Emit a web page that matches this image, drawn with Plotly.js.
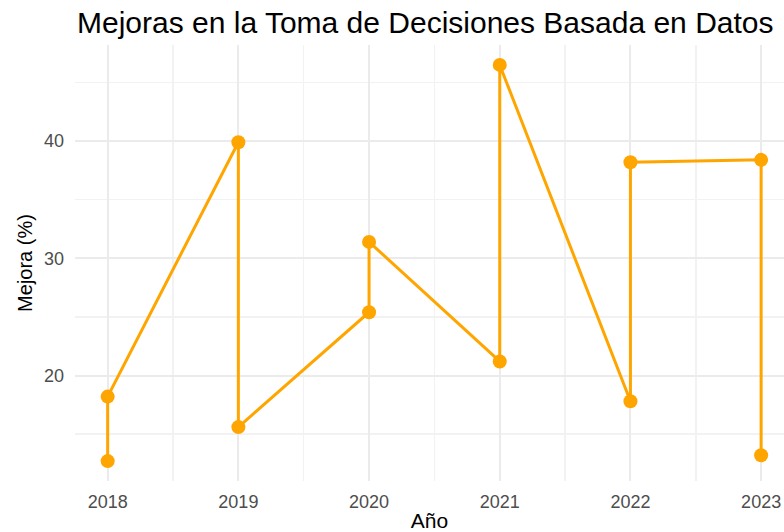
<!DOCTYPE html>
<html>
<head>
<meta charset="utf-8">
<script src="https://cdn.plot.ly/plotly-3.0.1.min.js"></script>
<style>
  html, body { margin: 0; padding: 0; background: #ffffff; }
  #chart { width: 784px; height: 532px; }
</style>
</head>
<body>
<div id="chart"></div>
<script>
// Data (points connected in data order)
const years = [2018, 2018, 2019, 2019, 2020, 2020, 2021, 2021, 2022, 2022, 2023, 2023];
const mejora = [12.7, 18.2, 39.9, 15.6, 25.4, 31.4, 21.2, 46.5, 17.8, 38.2, 38.4, 13.2];
const xTickVals = [2018, 2019, 2020, 2021, 2022, 2023];
const xTickText = ["2018", "2019", "2020", "2021", "2022", "2023"];
const yTickVals = [20, 30, 40];
const yTickText = ["20", "30", "40"];

const FONT = "Liberation Sans, Arial, sans-serif";
const ORANGE = "#FFA500";

const trace = {
  x: years,
  y: mejora,
  type: "scatter",
  mode: "lines+markers",
  line: { color: ORANGE, width: 3 },
  marker: { color: ORANGE, size: 14 },
  hoverinfo: "x+y",
  showlegend: false
};

const layout = {
  width: 784,
  height: 532,
  paper_bgcolor: "#ffffff",
  plot_bgcolor: "#ffffff",
  margin: { l: 75, r: 0, t: 45, b: 51 },
  font: { family: FONT, color: "#4D4D4D" },
  title: {
    text: "Mejoras en la Toma de Decisiones Basada en Datos",
    font: { family: FONT, size: 30, color: "#000000" },
    x: 77 / 784,
    xref: "container",
    xanchor: "left",
    y: 1 - 22 / 532,
    yref: "container",
    yanchor: "middle"
  },
  xaxis: {
    range: [2017.75, 2023.175],
    tickmode: "array",
    tickvals: xTickVals,
    ticktext: xTickText,
    showgrid: true,
    gridcolor: "#EBEBEB",
    gridwidth: 2,
    minor: { dtick: 0.5, tick0: 2017.5, showgrid: true, gridcolor: "#F2F2F2", gridwidth: 1.5 },
    zeroline: false,
    showline: false,
    ticks: "",
    ticklabelstandoff: 8,
    tickfont: { family: FONT, size: 18, color: "#4D4D4D" },
    title: { text: "Año", font: { family: FONT, size: 21, color: "#000000" }, standoff: 7 }
  },
  yaxis: {
    range: [11.0, 48.2],
    tickmode: "array",
    tickvals: yTickVals,
    ticktext: yTickText,
    showgrid: true,
    gridcolor: "#EBEBEB",
    gridwidth: 2,
    minor: { dtick: 5, tick0: 0, showgrid: true, gridcolor: "#F2F2F2", gridwidth: 1.5 },
    zeroline: false,
    showline: false,
    ticks: "",
    ticklabelstandoff: 10,
    tickfont: { family: FONT, size: 18, color: "#4D4D4D" },
    title: { text: "Mejora (%)", font: { family: FONT, size: 20, color: "#000000" }, standoff: 5 }
  }
};

Plotly.newPlot("chart", [trace], layout, { displayModeBar: false, staticPlot: true });
</script>
</body>
</html>
